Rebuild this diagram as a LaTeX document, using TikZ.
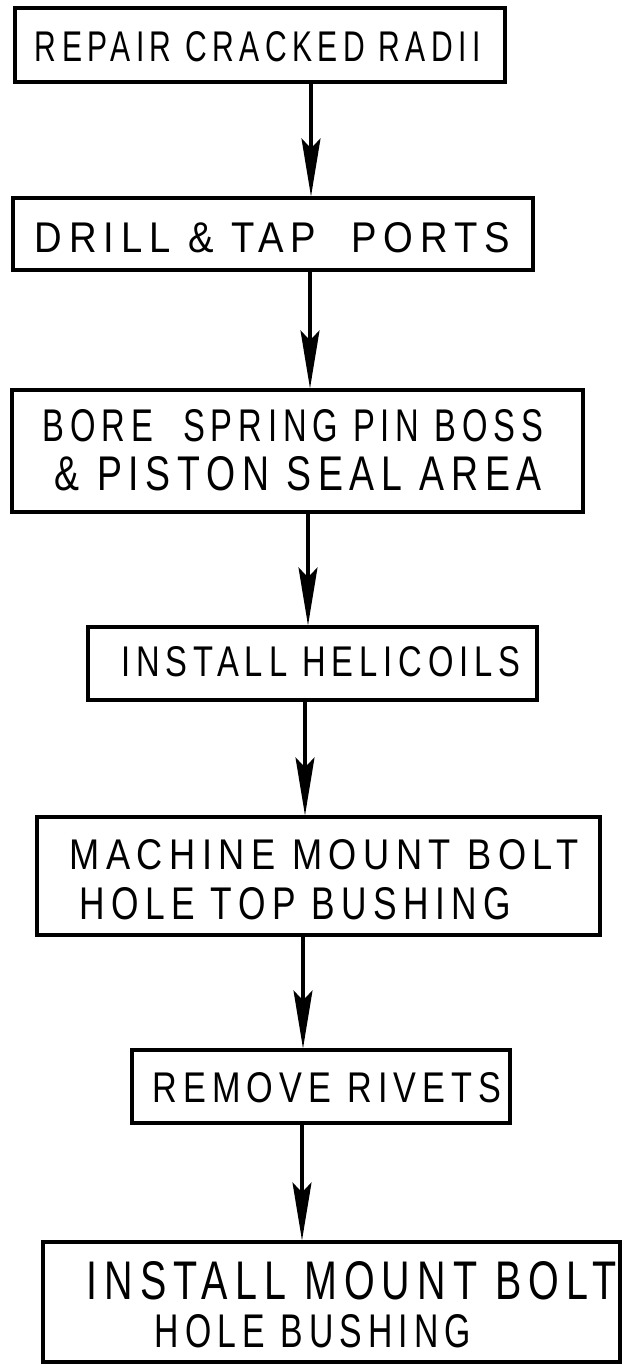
\documentclass[tikz,border=0pt]{standalone}
\usepackage{fontspec}
\setmainfont{Liberation Sans}[LetterSpace=18]
\usetikzlibrary{arrows.meta}
\newcommand\hw[3]{\resizebox{#1pt}{#2pt}{#3\kern-1.8pt}}
\begin{document}
\begin{tikzpicture}[x=1pt,y=-1pt,
  stepbox/.style={draw,line width=3.2pt,inner sep=0pt},
  lbl/.style={inner sep=0pt,anchor=center},
  arr/.style={line width=3.2pt,-{Stealth[length=58pt,width=19pt,inset=10pt]}}]
\useasboundingbox (0,0) rectangle (631,1370);
% boxes
\node[stepbox,minimum width=490pt,minimum height=74pt] (b1) at (260,45) {};
\node[stepbox,minimum width=520pt,minimum height=72pt] (b2) at (273,234) {};
\node[stepbox,minimum width=571pt,minimum height=122pt] (b3) at (297.5,451) {};
\node[stepbox,minimum width=449pt,minimum height=73pt] (b4) at (312.5,663.5) {};
\node[stepbox,minimum width=563pt,minimum height=118pt] (b5) at (318.5,876) {};
\node[stepbox,minimum width=378pt,minimum height=73pt] (b6) at (321,1086.5) {};
\node[stepbox,minimum width=577pt,minimum height=120pt] (b7) at (331.5,1302) {};
% texts
\node[lbl] (t1) at (255,47) {\hw{440}{30}{REPAIR\ CRACKED\ RADII}};
\node[lbl] (t2) at (269,238) {\hw{468}{30}{DRILL\ \&\ TAP\ \ PORTS}};
\node[lbl] (t3a) at (290,426) {\hw{495}{32}{BORE\ \ SPRING\ PIN\ BOSS}};
\node[lbl] (t3b) at (295,474) {\hw{480}{34}{\&\ PISTON\ SEAL\ AREA}};
\node[lbl] (t4) at (318,662) {\hw{393}{30}{INSTALL\ HELICOILS}};
\node[lbl] (t5a) at (321,855) {\hw{503}{30}{MACHINE\ MOUNT\ BOLT}};
\node[lbl] (t5b) at (292,904) {\hw{425}{32}{HOLE\ TOP\ BUSHING}};
\node[lbl] (t6) at (324,1088) {\hw{343}{30}{REMOVE\ RIVETS}};
\node[lbl] (t7a) at (348,1281) {\hw{523}{38}{INSTALL MOUNT\ BOLT}};
\node[lbl] (t7b) at (310,1331) {\hw{310}{33}{HOLE\ BUSHING}};
% arrows
\coordinate (x1) at (311,0);
\coordinate (x2) at (310,0);
\coordinate (x3) at (308,0);
\coordinate (x4) at (305,0);
\coordinate (x5) at (303,0);
\coordinate (x6) at (302,0);
\draw[arr] (x1 |- b1.south) -- (x1 |- b2.north);
\draw[arr] (x2 |- b2.south) -- (x2 |- b3.north);
\draw[arr] (x3 |- b3.south) -- (x3 |- b4.north);
\draw[arr] (x4 |- b4.south) -- (x4 |- b5.north);
\draw[arr] (x5 |- b5.south) -- (x5 |- b6.north);
\draw[arr] (x6 |- b6.south) -- (x6 |- b7.north);
\end{tikzpicture}
\end{document}
